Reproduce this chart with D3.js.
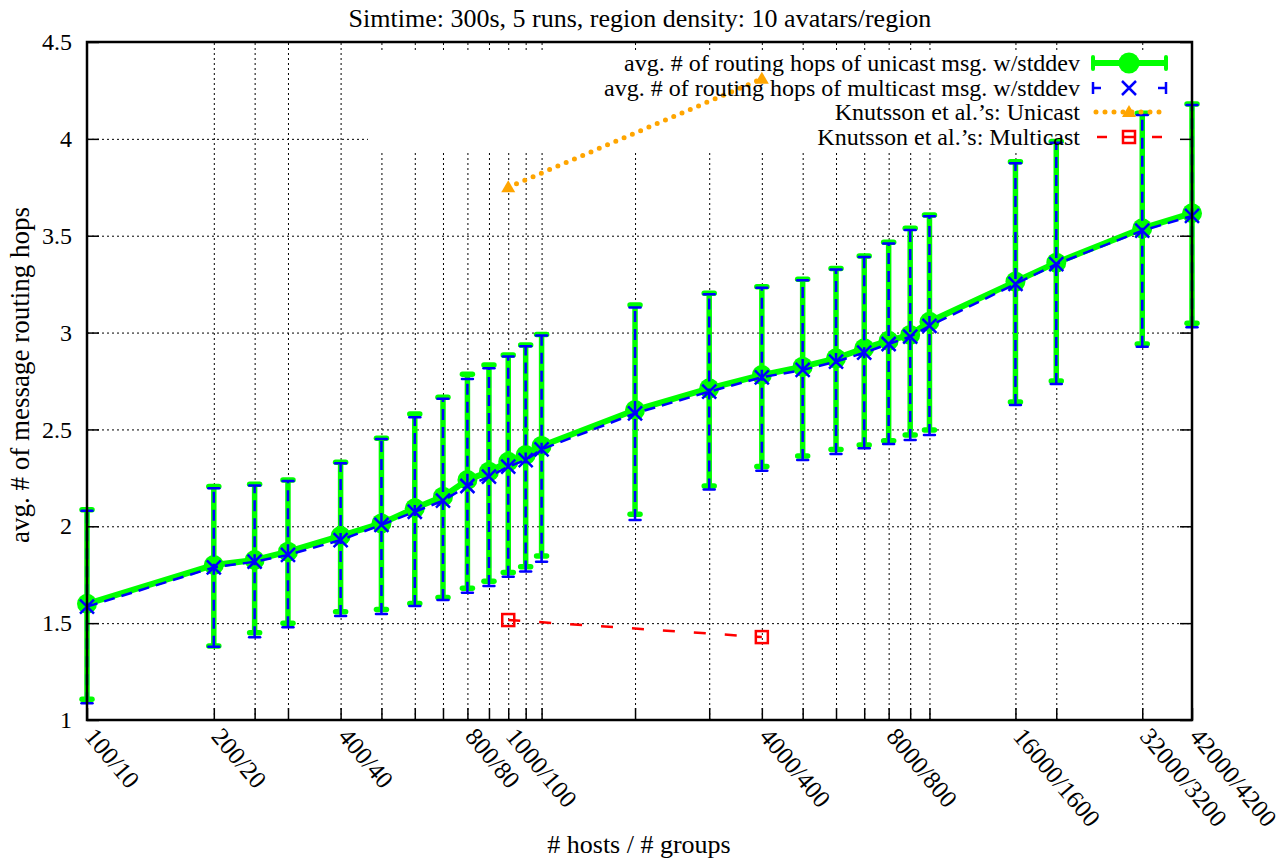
<!DOCTYPE html>
<html>
<head>
<meta charset="utf-8">
<script src="https://cdn.jsdelivr.net/npm/d3@7/dist/d3.min.js"></script>
<style>
  body { margin: 0; background: #fff; }
  svg { display: block; font-family: "Liberation Serif", "Times New Roman", serif; }
  .axis path, .axis line { stroke: #000; }
  .axis text { fill: #000; font-size: 24px; font-family: "Liberation Serif", serif; }
  .grid line { stroke: #000; stroke-width: 1; stroke-dasharray: 2,3; }
  .grid path { display: none; }
</style>
</head>
<body>
<div id="chart"></div>
<script>
// hosts per run (groups = hosts / 10)
const hosts = [100, 200, 250, 300, 400, 500, 600, 700, 800, 900, 1000, 1100, 1200,
  2000, 3000, 4000, 5000, 6000, 7000, 8000, 9000, 10000, 16000, 20000, 32000, 42000];

// unicast: avg, avg-stddev, avg+stddev
const unicastAvg = [1.60, 1.80, 1.826, 1.869, 1.95, 2.015, 2.093, 2.153, 2.239, 2.282, 2.333, 2.368, 2.415,
  2.60, 2.712, 2.781, 2.824, 2.867, 2.919, 2.958, 2.988, 3.056, 3.263, 3.361, 3.538, 3.616];
const unicastLow = [1.107, 1.382, 1.451, 1.499, 1.559, 1.571, 1.602, 1.633, 1.68, 1.716, 1.762, 1.791, 1.847,
  2.062, 2.208, 2.308, 2.363, 2.397, 2.42, 2.442, 2.471, 2.497, 2.642, 2.75, 2.941, 3.048];
const unicastHigh = [2.085, 2.205, 2.217, 2.239, 2.33, 2.454, 2.58, 2.666, 2.785, 2.833, 2.884, 2.936, 2.99,
  3.142, 3.203, 3.237, 3.275, 3.331, 3.395, 3.466, 3.538, 3.607, 3.882, 3.986, 4.132, 4.18];

// multicast
const multicastAvg = [1.585, 1.788, 1.817, 1.852, 1.929, 2.007, 2.075, 2.132, 2.208, 2.256, 2.308, 2.342, 2.397,
  2.583, 2.695, 2.769, 2.807, 2.85, 2.896, 2.941, 2.979, 3.034, 3.251, 3.353, 3.526, 3.602];
const multicastLow = [1.087, 1.378, 1.427, 1.479, 1.537, 1.547, 1.589, 1.62, 1.657, 1.692, 1.74, 1.766, 1.817,
  2.033, 2.19, 2.287, 2.342, 2.373, 2.403, 2.425, 2.446, 2.471, 2.626, 2.735, 2.927, 3.027];
const multicastHigh = [2.08, 2.196, 2.211, 2.234, 2.325, 2.45, 2.563, 2.659, 2.76, 2.816, 2.876, 2.93, 2.985,
  3.13, 3.198, 3.232, 3.27, 3.325, 3.39, 3.46, 3.53, 3.60, 3.874, 3.98, 4.123, 4.175];

// Knutsson et al. reference values
const knutHosts = [1000, 4000];
const knutUnicast = [3.75, 4.31];
const knutMulticast = [1.516, 1.428];

const tickHosts = [100, 200, 400, 800, 1000, 4000, 8000, 16000, 32000, 42000];
const tickLabels = ["100/10", "200/20", "400/40", "800/80", "1000/100", "4000/400",
  "8000/800", "16000/1600", "32000/3200", "42000/4200"];
const yTicks = [1, 1.5, 2, 2.5, 3, 3.5, 4, 4.5];

const legendLabels = [
  "avg. # of routing hops of unicast msg. w/stddev",
  "avg. # of routing hops of multicast msg. w/stddev",
  "Knutsson et al.\u2019s: Unicast",
  "Knutsson et al.\u2019s: Multicast"
];

const W = 1287, H = 860;
const pL = 87, pR = 1192, pT = 42, pB = 720;

const svg = d3.select("#chart").append("svg")
  .attr("width", W).attr("height", H);

const x = d3.scaleLog().domain([100, 42000]).range([pL, pR]);
const y = d3.scaleLinear().domain([1, 4.5]).range([pB, pT]);

const uni = hosts.map((h, i) => ({ h: h, v: unicastAvg[i], lo: unicastLow[i], hi: unicastHigh[i] }));
const multi = hosts.map((h, i) => ({ h: h, v: multicastAvg[i], lo: multicastLow[i], hi: multicastHigh[i] }));

// grid
svg.append("g").attr("class", "grid")
  .attr("transform", `translate(${pL},0)`)
  .call(d3.axisLeft(y).tickValues(yTicks.slice(1, -1)).tickSize(-(pR - pL)).tickFormat(""));
svg.append("g").attr("class", "grid")
  .attr("transform", `translate(0,${pB})`)
  .call(d3.axisBottom(x).tickValues(hosts.slice(1, -1)).tickSize(-(pB - pT)).tickFormat(""));

// key area hides the grid behind it
svg.append("rect")
  .attr("x", 368).attr("y", 52).attr("width", pR - 368).attr("height", 98)
  .attr("fill", "#fff");

const errbar = (g, data, color, width, capW, dash) => {
  g.selectAll(null).data(data).enter().append("line")
    .attr("x1", d => x(d.h)).attr("x2", d => x(d.h))
    .attr("y1", d => y(d.lo)).attr("y2", d => y(d.hi))
    .attr("stroke", color).attr("stroke-width", width)
    .attr("stroke-dasharray", dash);
  ["lo", "hi"].forEach(k => {
    g.selectAll(null).data(data).enter().append("line")
      .attr("x1", d => x(d.h) - capW / 2).attr("x2", d => x(d.h) + capW / 2)
      .attr("y1", d => y(d[k])).attr("y2", d => y(d[k]))
      .attr("stroke", color).attr("stroke-width", width)
      .attr("stroke-linecap", "round");
  });
};

const line = d3.line().x(d => x(d.h)).y(d => y(d.v));

// unicast series
const gU = svg.append("g");
errbar(gU, uni, "#00ff00", 5.5, 10, null);
gU.append("path").datum(uni).attr("d", line)
  .attr("fill", "none").attr("stroke", "#00ff00").attr("stroke-width", 6);
gU.selectAll("circle").data(uni).enter().append("circle")
  .attr("cx", d => x(d.h)).attr("cy", d => y(d.v)).attr("r", 10)
  .attr("fill", "#00ff00");

// multicast series
const gM = svg.append("g");
errbar(gM, multi, "#0000ff", 2.5, 11, "11,7");
gM.append("path").datum(multi).attr("d", line)
  .attr("fill", "none").attr("stroke", "#0000ff").attr("stroke-width", 2.5)
  .attr("stroke-dasharray", "11,7");
gM.selectAll(".xm").data(multi).enter().append("path")
  .attr("transform", d => `translate(${x(d.h)},${y(d.v)})`)
  .attr("d", "M-7,-7L7,7M-7,7L7,-7")
  .attr("stroke", "#0000ff").attr("stroke-width", 2.5).attr("fill", "none");

// Knutsson unicast
const knutU = knutHosts.map((h, i) => ({ h: h, v: knutUnicast[i] }));
const knutM = knutHosts.map((h, i) => ({ h: h, v: knutMulticast[i] }));
const tri = "M0,-7L7,5L-7,5Z";
svg.append("path").datum(knutU).attr("d", line)
  .attr("fill", "none").attr("stroke", "#ffa500").attr("stroke-width", 5)
  .attr("stroke-linecap", "round").attr("stroke-dasharray", "0,9");
svg.selectAll(".tri").data(knutU).enter().append("path")
  .attr("transform", d => `translate(${x(d.h)},${y(d.v)})`)
  .attr("d", tri).attr("fill", "#ffa500");

// Knutsson multicast
svg.append("path").datum(knutM).attr("d", line)
  .attr("fill", "none").attr("stroke", "#ff0000").attr("stroke-width", 2.5)
  .attr("stroke-dasharray", "12,19");
svg.selectAll(".sq").data(knutM).enter().append("rect")
  .attr("x", d => x(d.h) - 6).attr("y", d => y(d.v) - 6)
  .attr("width", 12).attr("height", 12)
  .attr("fill", "none").attr("stroke", "#ff0000").attr("stroke-width", 2.5);

// axes
const yAxis = svg.append("g").attr("class", "axis")
  .attr("transform", `translate(${pL},0)`)
  .call(d3.axisLeft(y).tickValues(yTicks).tickSizeInner(-12).tickSizeOuter(0).tickPadding(15)
    .tickFormat(d => String(d)));
yAxis.selectAll("line").attr("stroke-width", 1.5);

svg.append("g")
  .attr("transform", `translate(${pR},0)`)
  .call(d3.axisRight(y).tickValues(yTicks).tickSizeInner(-12).tickSizeOuter(0).tickFormat(""))
  .call(g => g.select("path").remove())
  .selectAll("line").attr("stroke", "#000").attr("stroke-width", 1.5);

const labelOf = h => {
  const i = tickHosts.indexOf(h);
  return i < 0 ? "" : tickLabels[i];
};
const xAxis = svg.append("g").attr("class", "axis")
  .attr("transform", `translate(0,${pB})`)
  .call(d3.axisBottom(x).tickValues(hosts).tickSizeInner(-12).tickSizeOuter(0).tickFormat(labelOf));
xAxis.selectAll("line").attr("stroke-width", 1.5);
xAxis.selectAll("text")
  .attr("text-anchor", "start")
  .attr("dy", null)
  .attr("y", 0)
  .style("font-size", "25px")
  .attr("transform", "translate(-4,17) rotate(50)");

svg.append("rect")
  .attr("x", pL).attr("y", pT).attr("width", pR - pL).attr("height", pB - pT)
  .attr("fill", "none").attr("stroke", "#000").attr("stroke-width", 2.5);

// title and axis labels
svg.append("text").attr("x", 640).attr("y", 27).attr("text-anchor", "middle")
  .attr("font-size", 26).text("Simtime: 300s, 5 runs, region density: 10 avatars/region");
svg.append("text").attr("x", 639).attr("y", 853).attr("text-anchor", "middle")
  .attr("font-size", 26).text("# hosts / # groups");
svg.append("text").attr("transform", `translate(29,${(pT + pB) / 2 - 6}) rotate(-90)`)
  .attr("text-anchor", "middle").attr("font-size", 27)
  .text("avg. # of message routing hops");

// key
const keyY = [63, 88, 112, 137];
const kx0 = 1093, kx1 = 1166, kxm = 1129;
const key = svg.append("g");
key.selectAll("text").data(legendLabels).enter().append("text")
  .attr("x", 1080).attr("y", (d, i) => keyY[i]).attr("dy", "0.35em")
  .attr("text-anchor", "end").attr("font-size", 24).text(d => d);

// unicast sample
key.append("line").attr("x1", kx0).attr("x2", kx1).attr("y1", keyY[0]).attr("y2", keyY[0])
  .attr("stroke", "#00ff00").attr("stroke-width", 6);
[kx0, kx1].forEach(cx => key.append("line").attr("x1", cx).attr("x2", cx)
  .attr("y1", keyY[0] - 6).attr("y2", keyY[0] + 6)
  .attr("stroke", "#00ff00").attr("stroke-width", 4).attr("stroke-linecap", "round"));
key.append("circle").attr("cx", kxm).attr("cy", keyY[0]).attr("r", 10.5).attr("fill", "#00ff00");

// multicast sample
[[kx0, kx0 + 8], [kx1 - 8, kx1]].forEach(s => key.append("line")
  .attr("x1", s[0]).attr("x2", s[1]).attr("y1", keyY[1]).attr("y2", keyY[1])
  .attr("stroke", "#0000ff").attr("stroke-width", 2.5));
[kx0, kx1].forEach(cx => key.append("line").attr("x1", cx).attr("x2", cx)
  .attr("y1", keyY[1] - 6).attr("y2", keyY[1] + 6)
  .attr("stroke", "#0000ff").attr("stroke-width", 2.5));
key.append("path").attr("transform", `translate(${kxm},${keyY[1]})`)
  .attr("d", "M-7,-7L7,7M-7,7L7,-7").attr("stroke", "#0000ff").attr("stroke-width", 2.5);

// Knutsson unicast sample
key.append("line").attr("x1", kx0 + 3).attr("x2", kx1 - 3).attr("y1", keyY[2]).attr("y2", keyY[2])
  .attr("stroke", "#ffa500").attr("stroke-width", 5)
  .attr("stroke-linecap", "round").attr("stroke-dasharray", "0,9");
key.append("path").attr("transform", `translate(${kxm},${keyY[2]})`).attr("d", tri).attr("fill", "#ffa500");

// Knutsson multicast sample
[[kx0 + 4, kx0 + 14], [kx1 - 14, kx1 - 4], [kxm - 5, kxm + 5]].forEach(s => key.append("line")
  .attr("x1", s[0]).attr("x2", s[1]).attr("y1", keyY[3]).attr("y2", keyY[3])
  .attr("stroke", "#ff0000").attr("stroke-width", 2.5));
key.append("rect").attr("x", kxm - 6).attr("y", keyY[3] - 6).attr("width", 12).attr("height", 12)
  .attr("fill", "none").attr("stroke", "#ff0000").attr("stroke-width", 2.5);
</script>
</body>
</html>
